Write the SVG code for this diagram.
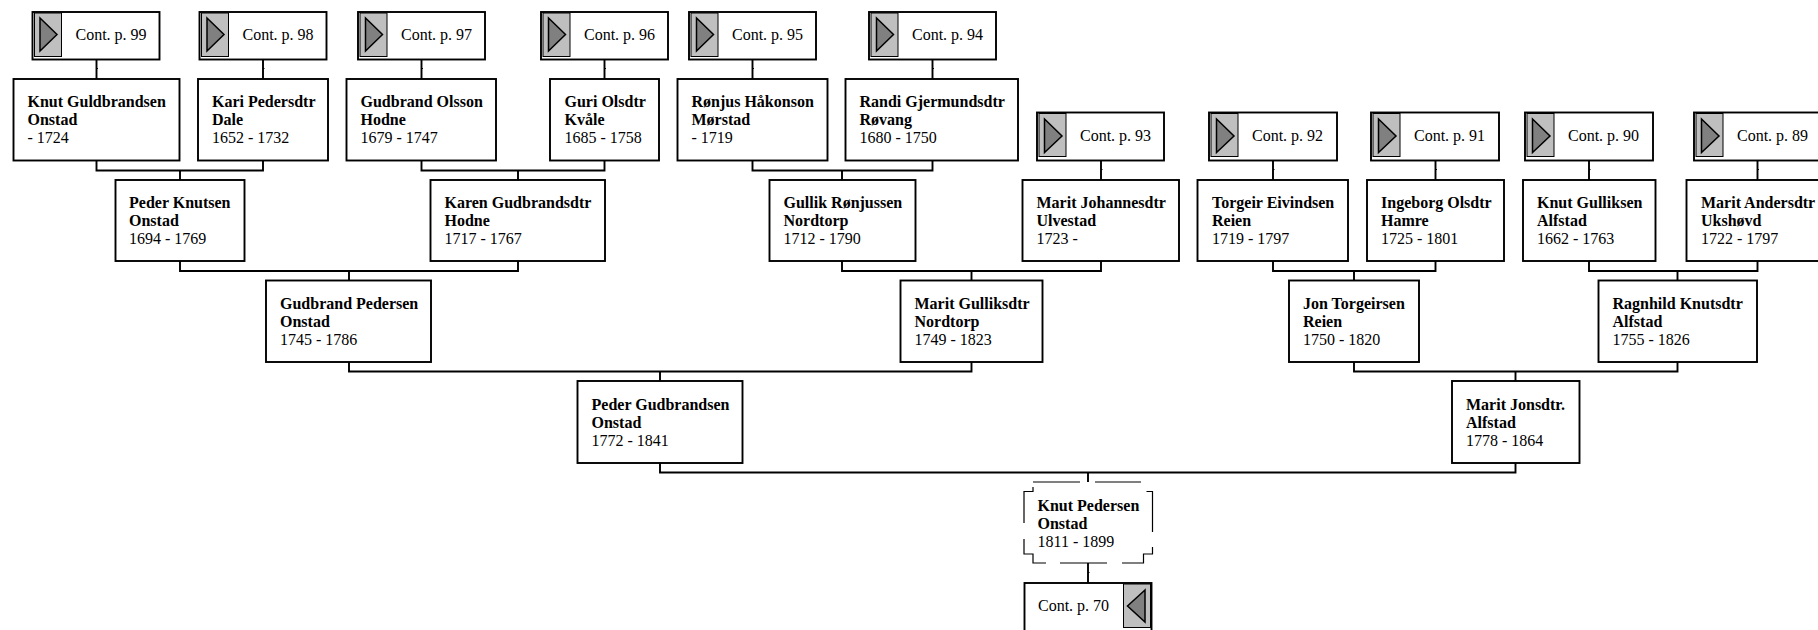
<svg xmlns="http://www.w3.org/2000/svg" width="1818" height="630" viewBox="0 0 1818 630">
<style>
.b{fill:#fff;stroke:#000;stroke-width:1.9}
.c{fill:none;stroke:#000;stroke-width:1.9}
.k{fill:none;stroke:#000;stroke-width:1}
.g{fill:#bfbfbf;stroke:#000;stroke-width:1}
.t{fill:#808080;stroke:#000;stroke-width:1.5}
text{font-family:"Liberation Serif","Times New Roman",serif;font-size:16px;fill:#000}
.n{font-weight:bold}
</style>
<rect width="1818" height="630" fill="#fff"/>
<g id="connectors">
<path class="c" d="M96.500 59.500V79M263 59.500V79M421.500 59.500V79M604.500 59.500V79M752.500 59.500V79M932.500 59.500V79M1101 160.500V180M1273 160.500V180M1435.500 160.500V180M1589 160.500V180M1757.500 160.500V180"/>
<path class="k" d="M96.500 68.500h1.500M263 68.500h1.500M421.500 68.500h1.500M604.500 68.500h1.500M752.500 68.500h1.500M932.500 68.500h1.500M1101 169.500h1.500M1273 169.500h1.500M1435.500 169.500h1.500M1589 169.500h1.500M1757.500 169.500h1.500M1088 572.500h1.500"/>
<path class="c" d="M96.500 160.500V170.500H263V160.500M180 170.500V180"/>
<path class="c" d="M421.500 160.500V170.500H604.500V160.500M518 170.500V180"/>
<path class="c" d="M752.500 160.500V170.500H932.500V160.500M842 170.500V180"/>
<path class="c" d="M180 261V271H518V261M349 271V280.500"/>
<path class="c" d="M842 261V271H1101V261M971.500 271V280.500"/>
<path class="c" d="M1273 261V271H1435.500V261M1354 271V280.500"/>
<path class="c" d="M1589 261V271H1757.500V261M1677.500 271V280.500"/>
<path class="c" d="M349 362V371.500H971.500V362M660 371.500V381"/>
<path class="c" d="M1354 362V371.500H1677.500V362M1515.500 371.500V381"/>
<path class="c" d="M660 463V472.500H1515.500V463M1088 472.500V482"/>
<path class="c" d="M1088 563V583"/>
</g>
<g id="cont99"><rect class="b" x="32.500" y="12" width="127" height="47.500"/><rect class="g" x="34.500" y="13" width="27" height="43.500"/><path class="t" d="M40 18L57 34.500L40 51Z"/><text x="75.500" y="40">Cont. p. 99</text></g>
<g id="cont98"><rect class="b" x="199.500" y="12" width="127" height="47.500"/><rect class="g" x="201.500" y="13" width="27" height="43.500"/><path class="t" d="M207 18L224 34.500L207 51Z"/><text x="242.500" y="40">Cont. p. 98</text></g>
<g id="cont97"><rect class="b" x="358" y="12" width="127" height="47.500"/><rect class="g" x="360" y="13" width="27" height="43.500"/><path class="t" d="M365.500 18L382.500 34.500L365.500 51Z"/><text x="401" y="40">Cont. p. 97</text></g>
<g id="cont96"><rect class="b" x="541" y="12" width="127" height="47.500"/><rect class="g" x="543" y="13" width="27" height="43.500"/><path class="t" d="M548.500 18L565.500 34.500L548.500 51Z"/><text x="584" y="40">Cont. p. 96</text></g>
<g id="cont95"><rect class="b" x="689" y="12" width="127" height="47.500"/><rect class="g" x="691" y="13" width="27" height="43.500"/><path class="t" d="M696.500 18L713.500 34.500L696.500 51Z"/><text x="732" y="40">Cont. p. 95</text></g>
<g id="cont94"><rect class="b" x="869" y="12" width="127" height="47.500"/><rect class="g" x="871" y="13" width="27" height="43.500"/><path class="t" d="M876.500 18L893.500 34.500L876.500 51Z"/><text x="912" y="40">Cont. p. 94</text></g>
<g id="cont93"><rect class="b" x="1037" y="112.500" width="127" height="48"/><rect class="g" x="1039" y="113.500" width="27" height="43"/><path class="t" d="M1044.500 119L1062 136L1044.500 152.500Z"/><text x="1080" y="140.500">Cont. p. 93</text></g>
<g id="cont92"><rect class="b" x="1209" y="112.500" width="128" height="48"/><rect class="g" x="1211" y="113.500" width="27" height="43"/><path class="t" d="M1216.500 119L1234 136L1216.500 152.500Z"/><text x="1252" y="140.500">Cont. p. 92</text></g>
<g id="cont91"><rect class="b" x="1371" y="112.500" width="128" height="48"/><rect class="g" x="1373" y="113.500" width="27" height="43"/><path class="t" d="M1378.500 119L1396 136L1378.500 152.500Z"/><text x="1414" y="140.500">Cont. p. 91</text></g>
<g id="cont90"><rect class="b" x="1525" y="112.500" width="128" height="48"/><rect class="g" x="1527" y="113.500" width="27" height="43"/><path class="t" d="M1532.500 119L1550 136L1532.500 152.500Z"/><text x="1568" y="140.500">Cont. p. 90</text></g>
<g id="cont89"><rect class="b" x="1694" y="112.500" width="128" height="48"/><rect class="g" x="1696" y="113.500" width="27" height="43"/><path class="t" d="M1701.500 119L1719 136L1701.500 152.500Z"/><text x="1737" y="140.500">Cont. p. 89</text></g>
<g id="p1"><rect class="b" x="13.500" y="79" width="166" height="81.500"/><text class="n" x="27.500" y="107">Knut Guldbrandsen</text><text class="n" x="27.500" y="125">Onstad</text><text x="27.500" y="143">- 1724</text></g>
<g id="p2"><rect class="b" x="198" y="79" width="130" height="81.500"/><text class="n" x="212" y="107">Kari Pedersdtr</text><text class="n" x="212" y="125">Dale</text><text x="212" y="143">1652 - 1732</text></g>
<g id="p3"><rect class="b" x="346.500" y="79" width="149.500" height="81.500"/><text class="n" x="360.500" y="107">Gudbrand Olsson</text><text class="n" x="360.500" y="125">Hodne</text><text x="360.500" y="143">1679 - 1747</text></g>
<g id="p4"><rect class="b" x="550" y="79" width="109" height="81.500"/><text class="n" x="564.500" y="107">Guri Olsdtr</text><text class="n" x="564.500" y="125">Kvåle</text><text x="564.500" y="143">1685 - 1758</text></g>
<g id="p5"><rect class="b" x="677.500" y="79" width="150" height="81.500"/><text class="n" x="691.500" y="107">Rønjus Håkonson</text><text class="n" x="691.500" y="125">Mørstad</text><text x="691.500" y="143">- 1719</text></g>
<g id="p6"><rect class="b" x="845.500" y="79" width="172.500" height="81.500"/><text class="n" x="859.500" y="107">Randi Gjermundsdtr</text><text class="n" x="859.500" y="125">Røvang</text><text x="859.500" y="143">1680 - 1750</text></g>
<g id="p7"><rect class="b" x="115.500" y="180" width="129" height="81"/><text class="n" x="129" y="208">Peder Knutsen</text><text class="n" x="129" y="226">Onstad</text><text x="129" y="244">1694 - 1769</text></g>
<g id="p8"><rect class="b" x="430.500" y="180" width="174.500" height="81"/><text class="n" x="444.500" y="208">Karen Gudbrandsdtr</text><text class="n" x="444.500" y="226">Hodne</text><text x="444.500" y="244">1717 - 1767</text></g>
<g id="p9"><rect class="b" x="769.500" y="180" width="146" height="81"/><text class="n" x="783.500" y="208">Gullik Rønjussen</text><text class="n" x="783.500" y="226">Nordtorp</text><text x="783.500" y="244">1712 - 1790</text></g>
<g id="p10"><rect class="b" x="1022.500" y="180" width="156.500" height="81"/><text class="n" x="1036.500" y="208">Marit Johannesdtr</text><text class="n" x="1036.500" y="226">Ulvestad</text><text x="1036.500" y="244">1723 -</text></g>
<g id="p11"><rect class="b" x="1197.500" y="180" width="150.500" height="81"/><text class="n" x="1212" y="208">Torgeir Eivindsen</text><text class="n" x="1212" y="226">Reien</text><text x="1212" y="244">1719 - 1797</text></g>
<g id="p12"><rect class="b" x="1367" y="180" width="137" height="81"/><text class="n" x="1381" y="208">Ingeborg Olsdtr</text><text class="n" x="1381" y="226">Hamre</text><text x="1381" y="244">1725 - 1801</text></g>
<g id="p13"><rect class="b" x="1523" y="180" width="132.500" height="81"/><text class="n" x="1537" y="208">Knut Gulliksen</text><text class="n" x="1537" y="226">Alfstad</text><text x="1537" y="244">1662 - 1763</text></g>
<g id="p14"><rect class="b" x="1686.500" y="180" width="140" height="81"/><text class="n" x="1701" y="208">Marit Andersdtr</text><text class="n" x="1701" y="226">Ukshøvd</text><text x="1701" y="244">1722 - 1797</text></g>
<g id="p15"><rect class="b" x="266" y="280.500" width="165" height="81.500"/><text class="n" x="280" y="309">Gudbrand Pedersen</text><text class="n" x="280" y="327">Onstad</text><text x="280" y="345">1745 - 1786</text></g>
<g id="p16"><rect class="b" x="900.500" y="280.500" width="142" height="81.500"/><text class="n" x="914.500" y="309">Marit Gulliksdtr</text><text class="n" x="914.500" y="327">Nordtorp</text><text x="914.500" y="345">1749 - 1823</text></g>
<g id="p17"><rect class="b" x="1289" y="280.500" width="130" height="81.500"/><text class="n" x="1303" y="309">Jon Torgeirsen</text><text class="n" x="1303" y="327">Reien</text><text x="1303" y="345">1750 - 1820</text></g>
<g id="p18"><rect class="b" x="1598.500" y="280.500" width="158.500" height="81.500"/><text class="n" x="1612.500" y="309">Ragnhild Knutsdtr</text><text class="n" x="1612.500" y="327">Alfstad</text><text x="1612.500" y="345">1755 - 1826</text></g>
<g id="p19"><rect class="b" x="577.500" y="381" width="165" height="82"/><text class="n" x="591.500" y="410">Peder Gudbrandsen</text><text class="n" x="591.500" y="428">Onstad</text><text x="591.500" y="446">1772 - 1841</text></g>
<g id="p20"><rect class="b" x="1452" y="381" width="127.500" height="82"/><text class="n" x="1466" y="410">Marit Jonsdtr.</text><text class="n" x="1466" y="428">Alfstad</text><text x="1466" y="446">1778 - 1864</text></g>
<g id="focus"><path class="c" style="stroke-width:1.2" d="M1033 482H1080M1095 482H1141M1146.500 491.500H1152.500V532M1152.500 547V554H1143.500V563H1122M1107 563H1060M1046 563H1033V554H1024V539M1024 523V491.500H1033V487"/><text class="n" x="1037.500" y="510.500">Knut Pedersen</text><text class="n" x="1037.500" y="529">Onstad</text><text x="1037.500" y="547">1811 - 1899</text></g>
<g id="cont70"><rect class="b" x="1024.500" y="583" width="127" height="49"/><rect class="g" x="1123.500" y="584" width="27" height="43.500"/><path class="t" d="M1145 590L1127.500 606L1145 622Z"/><text x="1038" y="610.500">Cont. p. 70</text></g>
</svg>
